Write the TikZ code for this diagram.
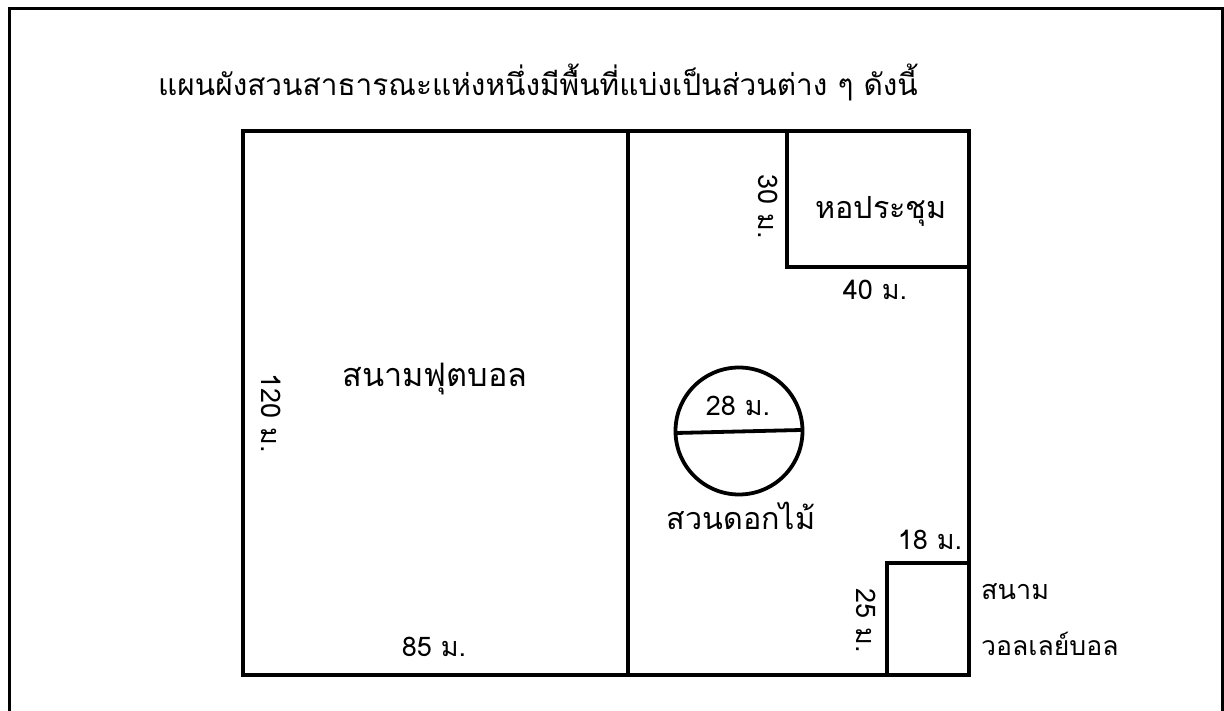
\documentclass[tikz,border=0pt]{standalone}
\usepackage{fontspec}
\setmainfont[Script=Thai]{Loma}
\tikzset{
  wall/.style={draw=black,line width=3.8pt,line cap=rect,line join=miter},
  frame/.style={draw=black,line width=3pt,line join=miter},
  big/.style={font=\fontsize{29.8}{30}\selectfont,inner sep=0pt,anchor=center},
  mid/.style={font=\fontsize{30.5}{31}\selectfont,inner sep=0pt,anchor=center},
  small/.style={font=\fontsize{27}{27}\selectfont,inner sep=0pt,anchor=center},
}
\begin{document}
\begin{tikzpicture}[x=1pt,y=-1pt]
\useasboundingbox (0,0) rectangle (1224,711);
\fill[white] (0,0) rectangle (1224,711);
\draw[frame] (9,725) -- (9,9) -- (1222,9) -- (1222,725);
\draw[wall] (243,131) rectangle (969,675);
\draw[wall] (628,131) -- (628,675);
\draw[wall] (787,131) -- (787,267) -- (969,267);
\draw[wall] (887,675) -- (887,563) -- (969,563);
\draw[wall] (739,431) circle (63.5);
\draw[wall] (676,433) -- (801,430);
\node[big] (title) at (538,82) {แผนผังสวนสาธารณะแห่งหนึ่งมีพื้นที่แบ่งเป็นส่วนต่าง ๆ ดังนี้};
\node[mid,font=\fontsize{32.4}{33}\selectfont] (football) at (435,379) {สนามฟุตบอล};
\node[mid] (hall) at (881,211) {หอประชุม};
\node[mid] (garden) at (741,516) {สวนดอกไม้};
\node[small,anchor=west] (v1) at (981,592) {สนาม};
\node[small,anchor=west,font=\fontsize{26.6}{27}\selectfont] (v2) at (981,644) {วอลเลย์บอล};
\node[small,rotate=-90] (l120) at (271,413) {120 ม.};
\node[small] (l85) at (434,647) {85 ม.};
\node[small,rotate=-90] (l30) at (768,207) {30 ม.};
\node[small] (l40) at (875,290) {40 ม.};
\node[small] (l28) at (738,406) {28 ม.};
\node[small] (l18) at (930,540) {18 ม.};
\node[small,rotate=-90] (l25) at (866,621) {25 ม.};
\end{tikzpicture}
\end{document}
